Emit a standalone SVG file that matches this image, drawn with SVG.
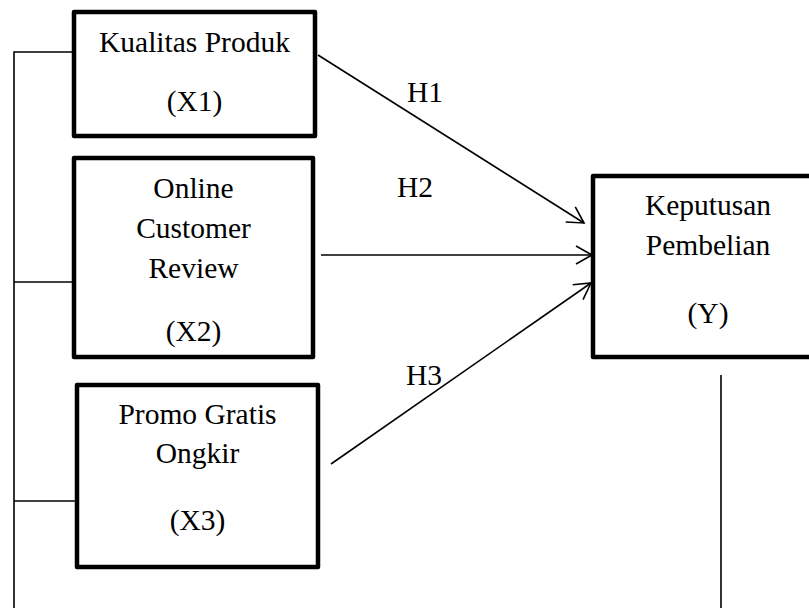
<svg xmlns="http://www.w3.org/2000/svg" width="809" height="608" viewBox="0 0 809 608">
<style>
.box{fill:#fff;stroke:#000;stroke-width:4.5;stroke-linejoin:round}
.ln{fill:none;stroke:#000;stroke-width:1.6}
text{font-family:"Liberation Serif","Times New Roman",serif;font-size:29.5px;fill:#000;text-anchor:middle}
</style>
<defs>
<marker id="arr" markerUnits="userSpaceOnUse" viewBox="-18 -11 20 22" refX="0" refY="0" markerWidth="20" markerHeight="22" orient="auto">
<path d="M-16,-9 L0,0 L-16,9" fill="none" stroke="#000" stroke-width="1.6"/>
</marker>
</defs>
<rect width="809" height="608" fill="#fff"/>
<g id="connectors">
<path class="ln" d="M14,608 V52 H76"/>
<path class="ln" d="M14,282 H77"/>
<path class="ln" d="M14,501 H77"/>
<path class="ln" d="M721,375 V608"/>
<line class="ln" x1="318" y1="55" x2="584" y2="223" marker-end="url(#arr)"/>
<line class="ln" x1="321" y1="255" x2="592" y2="255" marker-end="url(#arr)"/>
<line class="ln" x1="331" y1="464" x2="591" y2="283" marker-end="url(#arr)"/>
<text x="425" y="102">H1</text>
<text x="415" y="197">H2</text>
<text x="424" y="385">H3</text>
</g>
<g id="x1">
<rect class="box" x="74" y="12" width="241" height="124"/>
<text x="194.5" y="52">Kualitas Produk</text>
<text x="194.5" y="111">(X1)</text>
</g>
<g id="x2">
<rect class="box" x="74" y="158" width="239" height="199"/>
<text x="193.5" y="198">Online</text>
<text x="193.5" y="238">Customer</text>
<text x="193.5" y="278">Review</text>
<text x="193.5" y="341">(X2)</text>
</g>
<g id="x3">
<rect class="box" x="77" y="385" width="241" height="182"/>
<text x="197.5" y="424">Promo Gratis</text>
<text x="197.5" y="463">Ongkir</text>
<text x="197.5" y="530">(X3)</text>
</g>
<g id="y">
<rect class="box" x="593" y="176" width="230" height="181"/>
<text x="708" y="215">Keputusan</text>
<text x="708" y="255">Pembelian</text>
<text x="708" y="323">(Y)</text>
</g>
</svg>
